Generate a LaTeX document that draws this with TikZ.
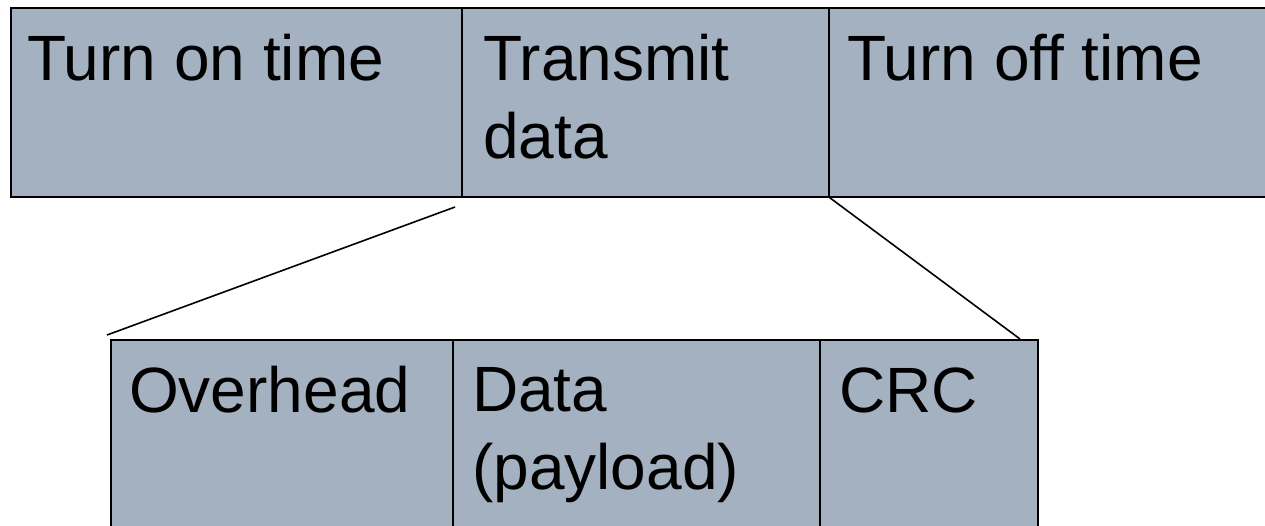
\documentclass[tikz,border=0pt]{standalone}
\usepackage{fontspec}
\setmainfont{Liberation Sans}
\definecolor{boxfill}{RGB}{163,177,192}
\begin{document}
\begin{tikzpicture}[x=1pt,y=-1pt,
  seg/.style={draw=black, fill=boxfill, line width=1.6pt, inner sep=0pt, anchor=north west},
  lbl/.style={font=\fontsize{64}{78}\selectfont, align=left, inner sep=0pt, anchor=base west},
  conn/.style={draw=black, line width=1.6pt}]
\useasboundingbox (0,0) rectangle (1265,525);
\clip (0,0) rectangle (1265,525);
% top row
\node[seg, minimum width=451pt, minimum height=189pt] (ton) at (10,7) {};
\node[seg, minimum width=367pt, minimum height=189pt] (tx) at (461,7) {};
\node[seg, minimum width=450pt, minimum height=189pt] (toff) at (828,7) {};
% bottom row
\node[seg, minimum width=342pt, minimum height=200pt] (ovh) at (110,339) {};
\node[seg, minimum width=367pt, minimum height=200pt] (pay) at (452,339) {};
\node[seg, minimum width=218pt, minimum height=200pt] (crc) at (819,339) {};
% labels (base = last line)
\node[lbl] (l1) at (27,80) {Turn on time};
\node[lbl] (l2) at (483,158) {Transmit\\data};
\node[lbl] (l3) at (847,80) {Turn off time};
\node[lbl] (l4) at (129,412) {Overhead};
\node[lbl] (l5) at (472,489) {Data\\(payload)};
\node[lbl] (l6) at (839,412) {CRC};
% connectors
\coordinate (a1) at (455,207);
\coordinate (a2) at (107,335);
\coordinate (b2) at (1020,339);
\draw[conn] (a1) -- (a2);
\draw[conn] (tx.south east) -- (b2);
\end{tikzpicture}
\end{document}
